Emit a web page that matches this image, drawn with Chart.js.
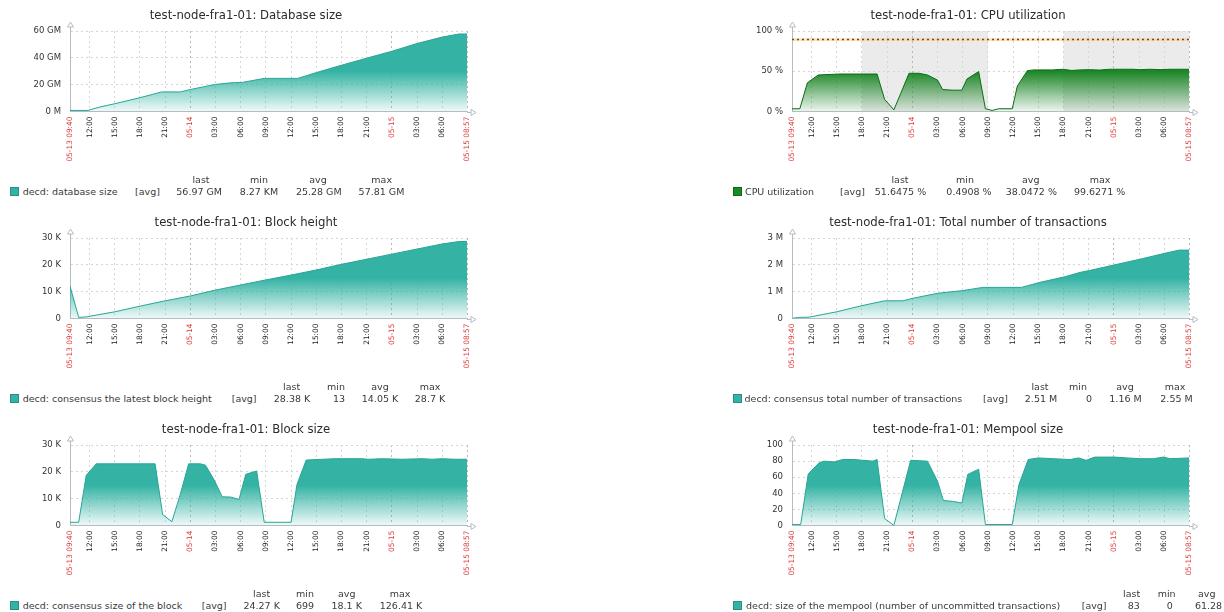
<!DOCTYPE html>
<html lang="en">
<head>
<meta charset="UTF-8">
<title>test-node-fra1-01</title>
<style>
    body {
        margin: 0;
        background: #fff;
        width: 1224px;
        height: 612px;
        overflow: hidden;
        position: relative;
        font-family: "DejaVu Sans", sans-serif;
    }

    .panel {
        position: absolute;
        width: 502px;
        height: 207px;
    }

    .panel canvas {
        position: absolute;
        left: 0;
        top: 0;
    }

    .lg {
        position: absolute;
        font-size: 9.5px;
        line-height: 12px;
        color: #3a3a3a;
        white-space: nowrap;
    }

    .c {
        transform: translateX(-50%);
    }

    .sw {
        position: absolute;
        width: 7px;
        height: 7px;
        top: 187px;
    }
</style>
<script src="https://cdn.jsdelivr.net/npm/chart.js"></script>
</head>
<body>
<div class="panel" id="p-db" style="left:0;top:0"><canvas id="c-db" width="492" height="175"></canvas></div>
<div class="panel" id="p-cpu" style="left:722px;top:0"><canvas id="c-cpu" width="492" height="175"></canvas></div>
<div class="panel" id="p-height" style="left:0;top:207px"><canvas id="c-height" width="492" height="175"></canvas></div>
<div class="panel" id="p-tx" style="left:722px;top:207px"><canvas id="c-tx" width="492" height="175"></canvas></div>
<div class="panel" id="p-bsize" style="left:0;top:414px"><canvas id="c-bsize" width="492" height="175"></canvas></div>
<div class="panel" id="p-mem" style="left:722px;top:414px"><canvas id="c-mem" width="492" height="175"></canvas></div>

<script>
    // time axis: hours counted from 05-13 00:00
    const xStart = 9.667;
    const xEnd = 56.95;
    const xTickHours = [9.667, 12, 15, 18, 21, 24, 27, 30, 33, 36, 39, 42, 45, 48, 51, 54, 56.95];
    const xTickLabels = ['05-13 09:40', '12:00', '15:00', '18:00', '21:00', '05-14', '03:00', '06:00', '09:00',
        '12:00', '15:00', '18:00', '21:00', '05-15', '03:00', '06:00', '05-15 08:57'];

    // Database size (GM)
    const dbHours = [9.67, 11.8, 13.2, 15.0, 18.0, 20.6, 22.8, 24.0, 27.0, 28.8, 30.2, 32.8, 36.8, 39.0, 42.0, 45.0, 48.0, 51.0, 54.0, 56.0, 56.95];
    const dbValues = [0.8, 0.8, 3.3, 5.8, 10.3, 14.6, 14.6, 16.4, 20.2, 21.4, 21.7, 24.7, 24.7, 29.0, 34.5, 39.8, 44.9, 50.7, 55.5, 57.8, 57.8];
    const dbTicks = [0, 20, 40, 60];
    const dbTickLabels = ['0 M', '20 GM', '40 GM', '60 GM'];
    const dbStats = ['56.97 GM', '8.27 KM', '25.28 GM', '57.81 GM'];

    // CPU utilization (%)
    const cpuHours = [9.67, 10.6, 11.5, 12.8, 15.4, 19.8, 20.7, 21.8, 22.6, 23.6, 24.8, 25.8, 27.0, 27.6, 28.8, 29.9, 30.5, 31.9, 32.7, 33.5,
        34.3, 35.9, 36.5, 37.7, 38.5, 40.7, 41.9, 43.0, 43.9, 45.1, 46.3, 47.5, 48.7, 50.3, 51.1, 52.3, 53.5, 54.7, 56.95];
    const cpuValues = [3.4, 3.4, 35.7, 45.4, 46.6, 46.6, 15, 2, 22, 47.5, 47.5, 45.4, 39, 27.3, 26.5, 26.5, 40.3, 49.6, 3.4, 1.3,
        3.4, 3.4, 31.5, 50.8, 51.7, 51.7, 52.5, 51, 51.7, 52, 51.5, 52.5, 52.5, 52.5, 52, 52.5, 52, 52.5, 52.5];
    const cpuTicks = [0, 50, 100];
    const cpuTickLabels = ['0 %', '50 %', '100 %'];
    const cpuTrigger = 90;
    const cpuOffHours = [[18, 33], [42, 56.95]];
    const cpuStats = ['51.6475 %', '0.4908 %', '38.0472 %', '99.6271 %'];

    // Block height (K)
    const heightHours = [9.67, 10.7, 11.6, 15, 18, 21, 24, 27, 30, 33, 36, 39, 42, 45, 48, 51, 54, 56, 56.95];
    const heightValues = [12.1, 0.4, 0.6, 2.5, 4.6, 6.6, 8.4, 10.6, 12.5, 14.4, 16.2, 18.1, 20.2, 22.1, 24, 25.9, 27.8, 28.7, 28.7];
    const heightTicks = [0, 10, 20, 30];
    const heightTickLabels = ['0', '10 K', '20 K', '30 K'];
    const heightStats = ['28.38 K', '13', '14.05 K', '28.7 K'];

    // Total number of transactions (M)
    const txHours = [9.67, 10.3, 11.7, 15.0, 18.0, 20.7, 22.9, 24.0, 27.0, 30.0, 32.4, 37.0, 39.1, 42.2, 44.0, 45.1, 48.1, 51.1, 54.2, 55.8, 56.95];
    const txValues = [0, 0.04, 0.05, 0.25, 0.48, 0.66, 0.66, 0.75, 0.94, 1.04, 1.16, 1.16, 1.34, 1.56, 1.72, 1.79, 2.0, 2.21, 2.44, 2.55, 2.55];
    const txTicks = [0, 1, 2, 3];
    const txTickLabels = ['0', '1 M', '2 M', '3 M'];
    const txStats = ['2.51 M', '0', '1.16 M', '2.55 M'];

    // Block size (K)
    const bsizeHours = [9.67, 10.7, 11.6, 12.8, 19.8, 20.7, 21.8, 22.8, 23.8, 25.2, 25.8, 26.8, 27.8, 28.8, 29.8, 30.6, 31.9, 32.8, 36.0, 36.7,
        37.8, 41.2, 44.4, 45.2, 46.8, 49.2, 51.6, 52.8, 54.0, 55.6, 56.95];
    const bsizeValues = [1.2, 1.2, 18.7, 23, 23, 4.1, 1.4, 11.6, 23, 23, 22.5, 17.2, 10.7, 10.6, 9.7, 19.1, 20.3, 1.2, 1.2, 15.3,
        24.4, 24.9, 24.9, 24.7, 24.9, 24.7, 24.9, 24.7, 24.9, 24.7, 24.7];
    const bsizeTicks = [0, 10, 20, 30];
    const bsizeTickLabels = ['0', '10 K', '20 K', '30 K'];
    const bsizeStats = ['24.27 K', '699', '18.1 K', '126.41 K'];

    // Mempool size
    const memHours = [9.67, 10.7, 11.6, 12.9, 13.5, 14.7, 15.7, 17.1, 18.1, 19.3, 19.8, 20.7, 21.8, 22.8, 23.8, 25.8, 27.0, 27.7, 28.8, 29.9,
        30.6, 31.9, 32.7, 35.9, 36.7, 37.8, 39.0, 40.8, 42.8, 43.8, 44.7, 45.7, 48.1, 49.6, 51.1, 52.7, 53.9, 54.7, 56.95];
    const memValues = [1.2, 1.2, 64, 78, 80, 79, 82, 82, 81, 80, 82, 8.7, 0, 40.7, 81, 80, 55, 31, 30, 28,
        63.5, 70, 1.2, 1.2, 51, 82, 84, 83, 82, 84, 81, 85, 85, 84, 83, 83, 85, 83, 84];
    const memTicks = [0, 20, 40, 60, 80, 100];
    const memTickLabels = ['0', '20', '40', '60', '80', '100'];
    const memStats = ['83', '0', '61.28'];

    const statHeaders = ['last', 'min', 'avg', 'max'];

    Chart.defaults.font.family = '"DejaVu Sans", sans-serif';

    const TEAL = '52,179,164';
    const GREEN = '28,134,38';
    const AXIS = '#b4bcc4';

    function isDateLabel(s) {
        return s.indexOf('-') > 0;
    }

    function fadeFill(rgb) {
        return (ctx) => {
            const area = ctx.chart.chartArea;
            if (!area) return 'rgb(' + rgb + ')';
            const g = ctx.chart.ctx.createLinearGradient(0, area.top, 0, area.bottom);
            g.addColorStop(0, 'rgb(' + rgb + ')');
            g.addColorStop(0.5, 'rgb(' + rgb + ')');
            g.addColorStop(1, 'rgba(' + rgb + ',0.07)');
            return g;
        };
    }

    // arrows at the end of both axes
    const axisArrows = {
        id: 'axisArrows',
        afterDraw(chart) {
            const { ctx, chartArea: a } = chart;
            const lx = Math.round(a.left) + 0.5;
            const by = Math.round(a.bottom) + 0.5;
            ctx.save();
            ctx.strokeStyle = AXIS;
            ctx.lineWidth = 1;
            ctx.beginPath();
            ctx.moveTo(lx, a.top);
            ctx.lineTo(lx, a.top - 5);
            ctx.moveTo(a.right, by);
            ctx.lineTo(a.right + 5, by);
            ctx.stroke();
            ctx.fillStyle = '#fff';
            ctx.beginPath();
            ctx.moveTo(lx, a.top - 9);
            ctx.lineTo(lx - 3, a.top - 4);
            ctx.lineTo(lx + 3, a.top - 4);
            ctx.closePath();
            ctx.fill();
            ctx.stroke();
            ctx.beginPath();
            ctx.moveTo(a.right + 9, by);
            ctx.lineTo(a.right + 4, by - 3);
            ctx.lineTo(a.right + 4, by + 3);
            ctx.closePath();
            ctx.fill();
            ctx.stroke();
            ctx.restore();
        }
    };

    // grey background for non-working hours
    const offHours = {
        id: 'offHours',
        beforeDraw(chart, args, opts) {
            if (!opts.ranges) return;
            const { ctx, chartArea: a, scales: { x } } = chart;
            ctx.save();
            ctx.fillStyle = '#ebebeb';
            opts.ranges.forEach(r => {
                const x1 = x.getPixelForValue(r[0]);
                const x2 = x.getPixelForValue(r[1]);
                ctx.fillRect(x1, a.top, x2 - x1, a.bottom - a.top);
            });
            ctx.restore();
        }
    };

    // trigger threshold line
    const triggerLine = {
        id: 'triggerLine',
        afterDatasetsDraw(chart, args, opts) {
            if (opts.value === undefined) return;
            const { ctx, chartArea: a, scales: { y } } = chart;
            const py = Math.round(y.getPixelForValue(opts.value)) + 0.5;
            ctx.save();
            ctx.strokeStyle = 'rgba(245,205,150,0.55)';
            ctx.lineWidth = 3;
            ctx.beginPath();
            ctx.moveTo(a.left, py);
            ctx.lineTo(a.right, py);
            ctx.stroke();
            ctx.strokeStyle = '#7a4a14';
            ctx.lineWidth = 1.3;
            ctx.setLineDash([2, 3]);
            ctx.beginPath();
            ctx.moveTo(a.left, py);
            ctx.lineTo(a.right, py);
            ctx.stroke();
            ctx.restore();
        }
    };

    function makeChart(id, title, hours, values, yMax, yTicks, yLabels, rgb, lineColor, extra) {
        const points = hours.map((h, i) => ({ x: h, y: values[i] }));
        return new Chart(document.getElementById(id), {
            type: 'line',
            data: {
                datasets: [{
                    data: points,
                    borderColor: lineColor,
                    borderWidth: 1,
                    backgroundColor: fadeFill(rgb),
                    fill: 'origin',
                    pointRadius: 0,
                    tension: 0
                }]
            },
            options: {
                responsive: false,
                animation: false,
                // equal side padding keeps the title centred on the whole image
                layout: { padding: { left: 25, right: 25, top: 0, bottom: 0 } },
                plugins: {
                    legend: { display: false },
                    tooltip: { enabled: false },
                    title: {
                        display: true,
                        text: title,
                        color: '#2b2b2b',
                        font: { size: 11.7, weight: 'normal' },
                        padding: { top: 9, bottom: 8 }
                    },
                    offHours: { ranges: extra && extra.offHours },
                    triggerLine: { value: extra && extra.trigger }
                },
                scales: {
                    x: {
                        type: 'linear',
                        min: xStart,
                        max: xEnd,
                        afterBuildTicks: s => { s.ticks = xTickHours.map(v => ({ value: v })); },
                        afterFit: s => { s.height = 63.5; },
                        ticks: {
                            autoSkip: false,
                            minRotation: 90,
                            maxRotation: 90,
                            padding: 5,
                            font: { size: 7.4 },
                            color: c => isDateLabel(xTickLabels[c.index] || '') ? '#dd3b3b' : '#222',
                            callback: (v, i) => xTickLabels[i]
                        },
                        grid: {
                            color: c => isDateLabel(xTickLabels[c.index] || '') ? '#b8b8b8' : '#d6d6d6',
                            drawTicks: false
                        },
                        border: { display: true, color: AXIS, dash: [2, 3] }
                    },
                    y: {
                        min: 0,
                        max: yMax,
                        afterBuildTicks: s => { s.ticks = yTicks.map(v => ({ value: v })); },
                        afterFit: s => { s.width = 45; },
                        ticks: {
                            padding: 9,
                            color: '#333',
                            font: { size: 8.5 },
                            callback: (v, i) => yLabels[i]
                        },
                        grid: { color: '#d6d6d6', drawTicks: false },
                        border: { display: true, color: AXIS, dash: [2, 3] }
                    }
                }
            },
            plugins: [offHours, triggerLine, axisArrows]
        });
    }

    function addLegend(panelId, swatch, name, stats, pos) {
        const panel = document.getElementById(panelId);
        let html = '<div class="sw" style="left:' + pos.sw + 'px;background:' + swatch.fill + ';border:1px solid ' + swatch.border + '"></div>';
        html += '<div class="lg" style="left:' + pos.name + 'px;top:185.5px">' + name + '</div>';
        html += '<div class="lg" style="left:' + pos.avg + 'px;top:185.5px">[avg]</div>';
        stats.forEach((s, i) => {
            html += '<div class="lg c" style="left:' + pos.hdr[i] + 'px;top:174px">' + statHeaders[i] + '</div>';
            html += '<div class="lg c" style="left:' + pos.val[i] + 'px;top:185.5px">' + s + '</div>';
        });
        panel.insertAdjacentHTML('beforeend', html);
    }

    const tealSwatch = { fill: 'rgb(52,179,164)', border: '#2a8f83' };
    const greenSwatch = { fill: 'rgb(26,138,36)', border: '#0f6a18' };

    makeChart('c-db', 'test-node-fra1-01: Database size', dbHours, dbValues, 60, dbTicks, dbTickLabels, TEAL, 'rgb(40,165,150)');
    makeChart('c-cpu', 'test-node-fra1-01: CPU utilization', cpuHours, cpuValues, 100, cpuTicks, cpuTickLabels, GREEN, 'rgb(10,110,22)',
        { offHours: cpuOffHours, trigger: cpuTrigger });
    makeChart('c-height', 'test-node-fra1-01: Block height', heightHours, heightValues, 30, heightTicks, heightTickLabels, TEAL, 'rgb(40,165,150)');
    makeChart('c-tx', 'test-node-fra1-01: Total number of transactions', txHours, txValues, 3, txTicks, txTickLabels, TEAL, 'rgb(40,165,150)');
    makeChart('c-bsize', 'test-node-fra1-01: Block size', bsizeHours, bsizeValues, 30, bsizeTicks, bsizeTickLabels, TEAL, 'rgb(40,165,150)');
    makeChart('c-mem', 'test-node-fra1-01: Mempool size', memHours, memValues, 100, memTicks, memTickLabels, TEAL, 'rgb(40,165,150)');

    addLegend('p-db', tealSwatch, 'decd: database size', dbStats,
        { sw: 10, name: 22.7, avg: 135, hdr: [201, 259, 318, 381.7], val: [199.2, 259, 318.8, 381.5] });
    addLegend('p-cpu', greenSwatch, 'CPU utilization', cpuStats,
        { sw: 10.7, name: 23, avg: 118, hdr: [178, 243, 308.7, 378], val: [178.5, 247, 309.3, 377.6] });
    addLegend('p-height', tealSwatch, 'decd: consensus the latest block height', heightStats,
        { sw: 10, name: 22.7, avg: 231.7, hdr: [291.7, 336, 380, 430], val: [292, 339, 380, 430] });
    addLegend('p-tx', tealSwatch, 'decd: consensus total number of transactions', txStats,
        { sw: 11, name: 22.5, avg: 261, hdr: [318, 356, 403, 453], val: [319, 367, 403.5, 454.5] });
    addLegend('p-bsize', tealSwatch, 'decd: consensus size of the block', bsizeStats,
        { sw: 10, name: 22.7, avg: 201.7, hdr: [261.7, 305, 346.7, 400], val: [261.7, 305, 346.7, 401] });
    addLegend('p-mem', tealSwatch, 'decd: size of the mempool (number of uncommitted transactions)', memStats,
        { sw: 11, name: 24, avg: 359.7, hdr: [409.7, 444.7, 484.7], val: [411.8, 447.7, 486.5] });
</script>
</body>
</html>
